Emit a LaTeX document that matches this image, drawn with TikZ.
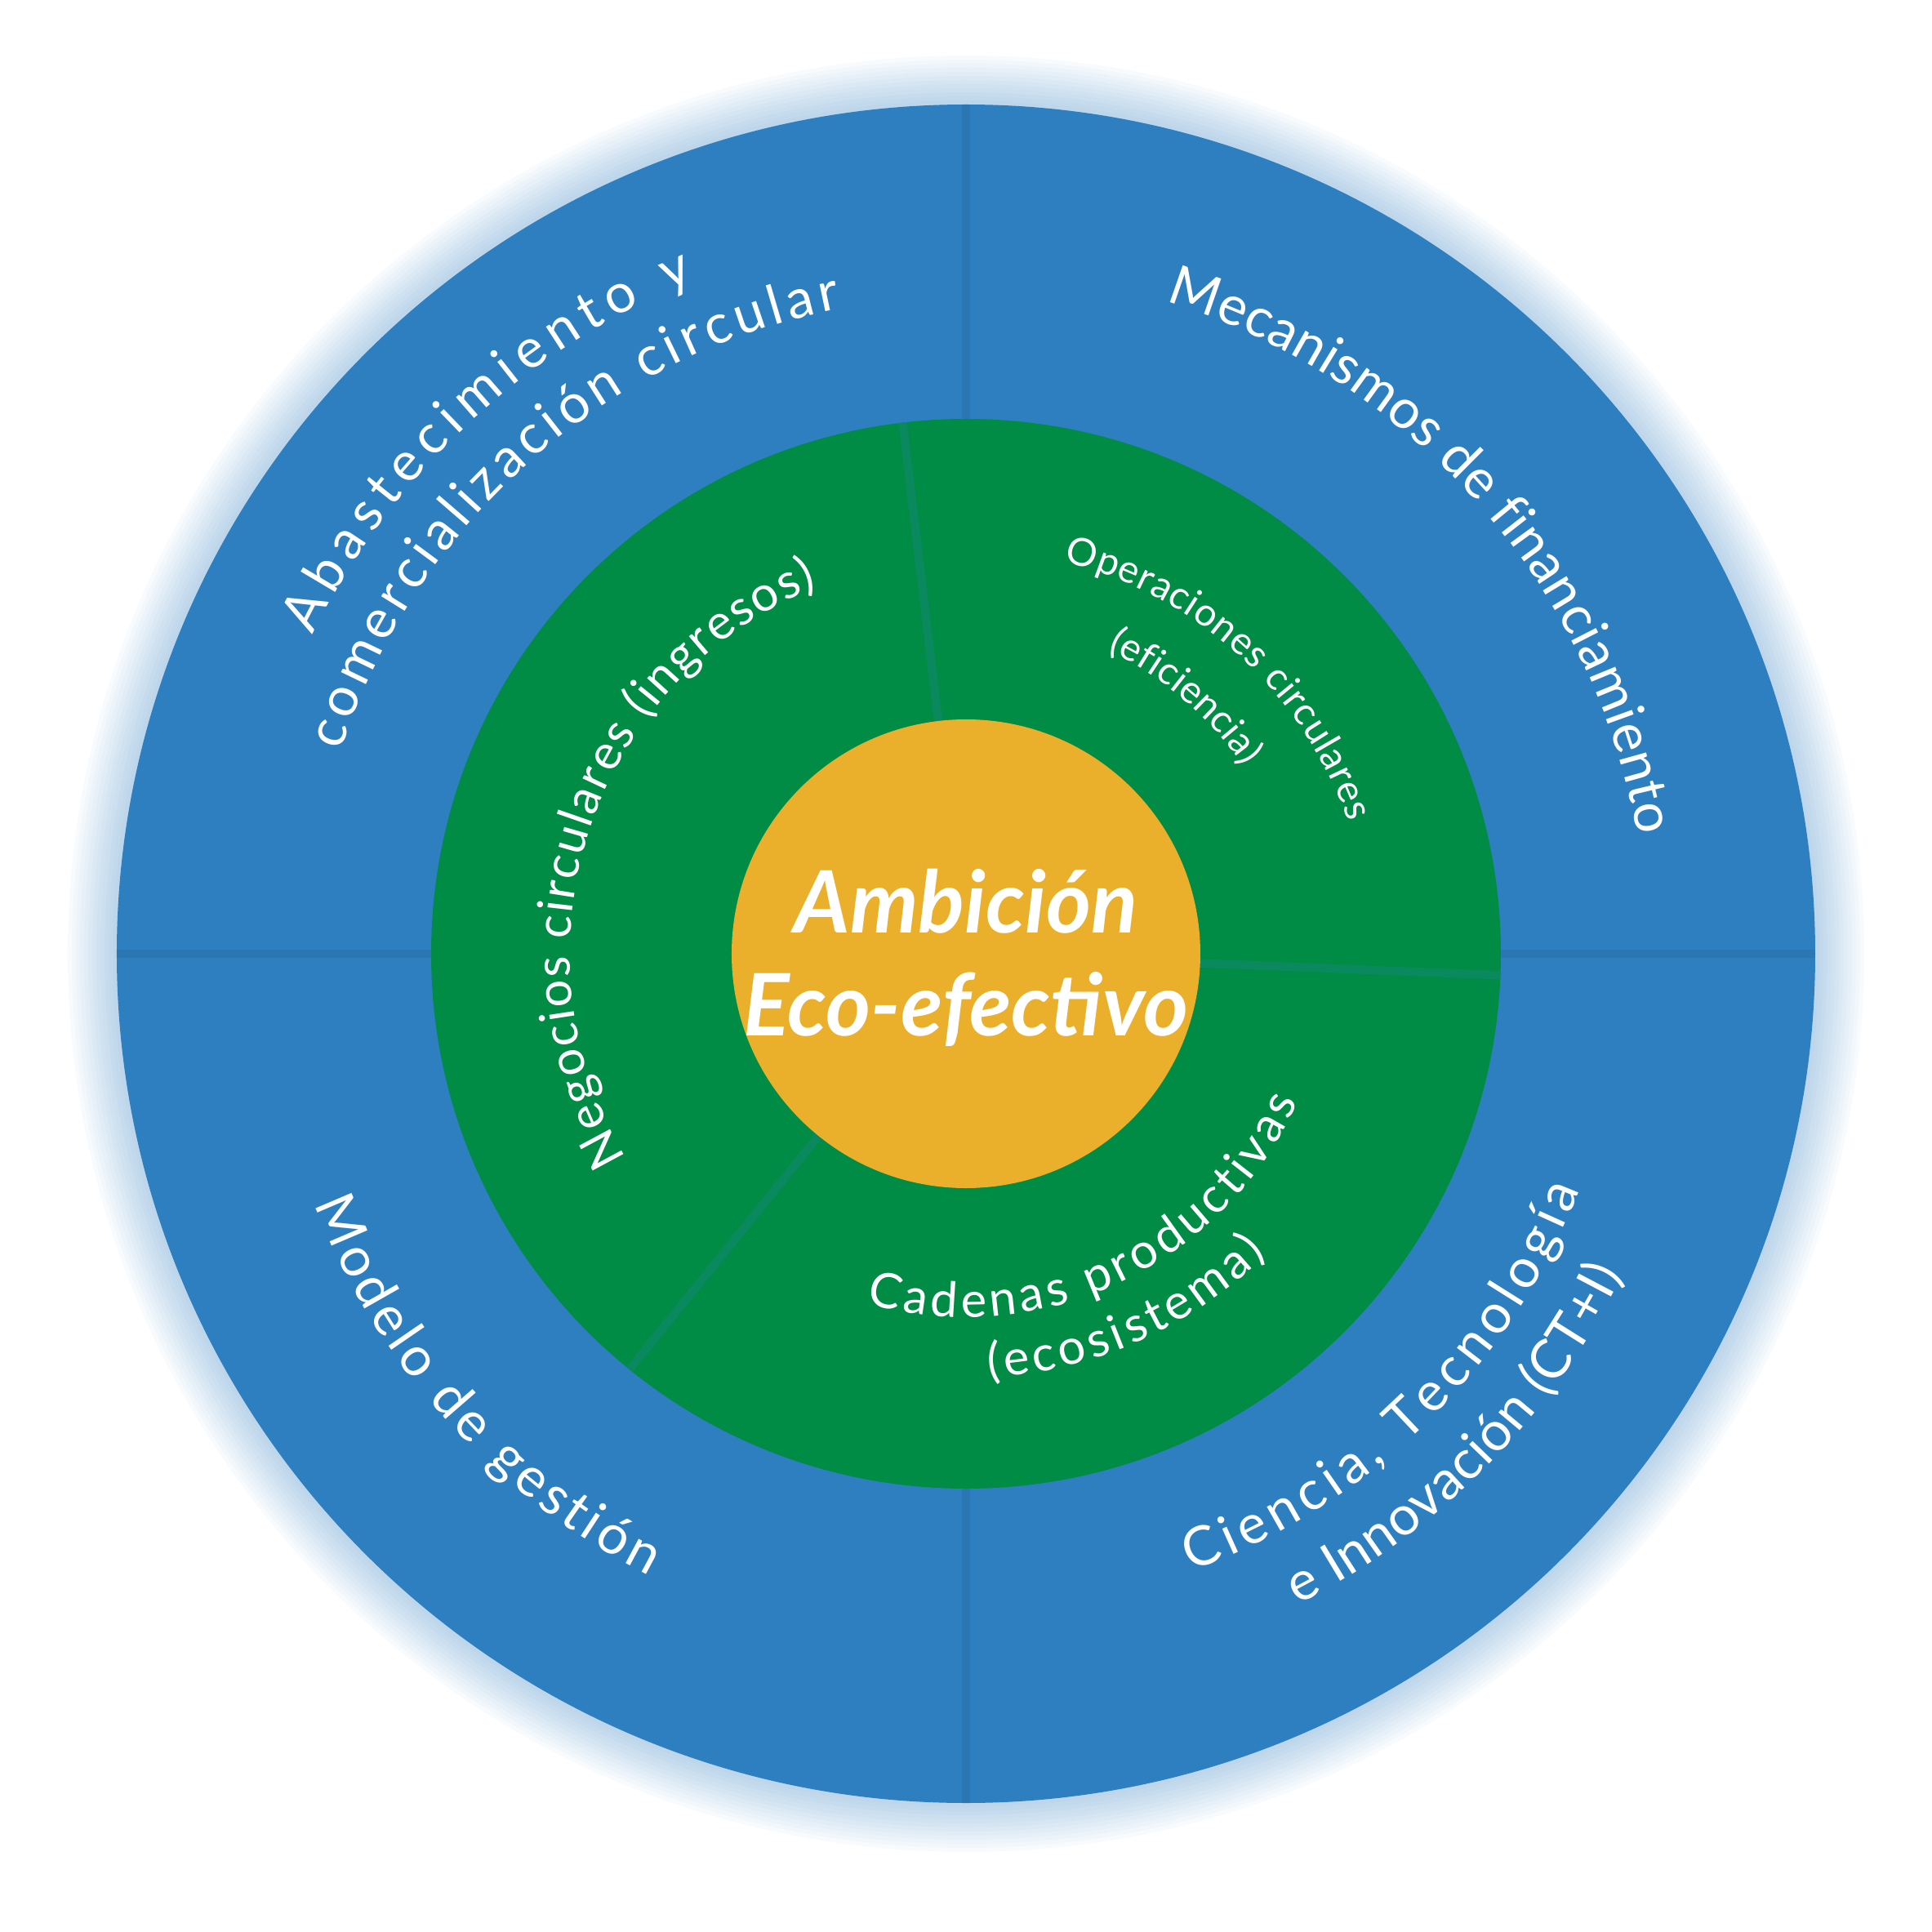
\documentclass[tikz,border=0pt]{standalone}
\usepackage{fontspec}
\setmainfont{Lato}
\usetikzlibrary{decorations.text}
\definecolor{ringblue}{HTML}{2E7FC0}
\definecolor{ringgreen}{HTML}{008C44}
\definecolor{coreyellow}{HTML}{EAAF2B}
\tikzset{
  arctext/.style={decorate, decoration={text along path, text align=fit to path,
    text color=white, text={#1}}},
  divider/.style={line width=3pt, draw=#1},
}
\newcommand{\outersize}{\fontsize{19}{22}\selectfont}
\newcommand{\innersize}{\fontsize{17}{20}\selectfont}
\newcommand{\tightsize}{\fontsize{13.5}{16}\selectfont}
\begin{document}
\begin{tikzpicture}
  \useasboundingbox (-11.83,-11.98) rectangle (11.83,11.68);
  \coordinate (c) at (0,0);
  % halo
  \foreach \i in {1,...,12}
    \fill[ringblue, opacity=0.03] (c) circle ({10.4+0.6*\i/12});
  \fill[ringblue] (c) circle (10.4);
  \draw[divider=ringblue!80!black, opacity=0.3] (0,10.4) -- (0,-10.4);
  \draw[divider=ringblue!80!black, opacity=0.3] (-10.4,0) -- (10.4,0);
  % green ring
  \fill[ringgreen] (c) circle (6.55);
  \foreach \a in {96.8,-2.3,231}
    \draw[divider=ringgreen!80!ringblue] (c) -- (\a:6.55);
  \fill[coreyellow] (c) circle (2.87);
  % centre
  \node[text=white, font=\fontsize{30}{34}\selectfont\bfseries\itshape, align=center] (core) at (0,-0.05)
    {Ambición\\[2pt]Eco-efectivo};
  % outer texts
  \path[arctext={|\outersize|Abastecimiento y}] (154:8.9) arc[start angle=154, end angle=112, radius=8.9];
  \path[arctext={|\outersize|comercialización circular}] (162:8.05) arc[start angle=162, end angle=101, radius=8.05];
  \path[arctext={|\outersize|Mecanismos de financiamiento}] (73:8.35) arc[start angle=73, end angle=10, radius=8.35];
  \path[arctext={|\outersize|Modelo de gestión}] (201:8.55) arc[start angle=201, end angle=243, radius=8.55];
  \path[arctext={|\outersize|Ciencia, Tecnología}] (-70:8.05) arc[start angle=-70, end angle=-21, radius=8.05];
  \path[arctext={|\outersize|e Innovación (CT+I)}] (-63:8.95) arc[start angle=-63, end angle=-26, radius=8.95];
  % inner texts
  \path[arctext={|\innersize|Negocios circulares (ingresos)}] (211:4.85) arc[start angle=211, end angle=112, radius=4.85];
  \path[arctext={|\tightsize|Operaciones circulares}] (76:4.95) arc[start angle=76, end angle=19, radius=4.95];
  \path[arctext={|\tightsize|(eficiencia)}] (65:4.1) arc[start angle=65, end angle=34, radius=4.1];
  \path[arctext={|\innersize|Cadenas productivas}] (254:4.45) arc[start angle=254, end angle=336, radius=4.45];
  \path[arctext={|\innersize|(ecosistema)}] (273:5.2) arc[start angle=273, end angle=315, radius=5.2];
\end{tikzpicture}
\end{document}
